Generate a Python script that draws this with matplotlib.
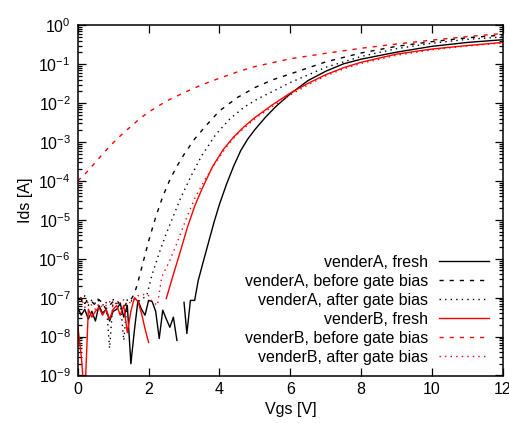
import numpy as np
import matplotlib
matplotlib.use("Agg")
import matplotlib.pyplot as plt
from matplotlib.ticker import LogLocator, FixedLocator, NullFormatter

plt.rcParams['font.family'] = ['Liberation Sans', 'DejaVu Sans']
plt.rcParams['mathtext.default'] = 'regular'
plt.rcParams['axes.unicode_minus'] = False
plt.rcParams['lines.scale_dashes'] = False

# ---------------- data (Vgs [V], log10 of Ids [A]) ----------------
vA_fresh_v = [0.0, 0.1, 0.2, 0.3, 0.4, 0.5, 0.6, 0.7, 0.8, 0.9, 1.0, 1.1, 1.2, 1.3, 1.4,
              1.5, 1.6, 1.7, 1.8, 1.9, 2.0, 2.1, 2.2, 2.3, 2.4, 2.5, 2.6, 2.7, 2.8, 2.9,
              3.0, 3.08, 3.18, 3.3, 3.4, 3.55, 3.7, 3.85, 4.0, 4.2, 4.4, 4.6, 4.8, 5.0,
              5.3, 5.6, 6.0, 6.5, 7.0, 7.5, 8.0, 9.0, 10.0, 11.0, 12.0]
vA_fresh_log = [-7.25, -7.45, -7.3, -7.55, -7.35, -7.6, -7.2, -7.4, -7.3, -7.6, -7.35, -7.3,
                -7.15, -7.5, -7.2, -8.7, -7.84, -7.07, -7.3, -7.45, -7.07, -7.1, -7.35,
                -8.05, -7.32, -7.55, -7.76, -7.5, -8.1, np.nan,
                -7.12, -7.92, -7.07, -7.07, -6.56, -6.05, -5.55, -5.05, -4.6, -4.08,
                -3.62, -3.22, -2.92, -2.68, -2.36, -2.08, -1.76, -1.42, -1.18, -0.99,
                -0.87, -0.69, -0.54, -0.44, -0.37]

vA_before_v = [0.0, 0.1, 0.2, 0.3, 0.4, 0.5, 0.6, 0.7, 0.8, 0.9, 1.0, 1.1, 1.2, 1.3, 1.4,
               1.5, 1.6, 1.7, 1.8, 1.9, 2.0, 2.2, 2.4, 2.6, 2.8, 3.0, 3.3, 3.6, 4.0, 4.5,
               5.0, 5.5, 6.0, 7.0, 8.0, 9.0, 10.0, 11.0, 12.0]
vA_before_log = [-7.05, -7.0, -7.15, -7.05, -7.1, -7.2, -7.05, -7.15, -7.3, -7.2, -7.1,
                 -7.05, -7.2, -7.25, -7.1, -7.05, -6.9, -6.6, -6.25, -5.9, -5.55, -4.93,
                 -4.4, -3.97, -3.62, -3.32, -2.92, -2.6, -2.2, -1.86, -1.6, -1.4, -1.25,
                 -0.94, -0.71, -0.54, -0.42, -0.32, -0.25]

vA_after_v = [0.0, 0.1, 0.2, 0.3, 0.4, 0.5, 0.6, 0.7, 0.8, 0.9, 1.0, 1.1, 1.2, 1.3, 1.4,
              1.5, 1.6, 1.7, 1.8, 1.95, 2.1, 2.3, 2.5, 2.7, 2.9, 3.2, 3.5, 3.9, 4.3,
              4.7, 5.1, 5.5, 6.0, 7.0, 8.0, 9.0, 10.0, 11.0, 12.0]
vA_after_log = [-7.0, -7.1, -6.95, -7.2, -7.05, -7.15, -7.0, -7.2, -7.1, -8.3, -7.05,
                -7.15, -7.1, -8.1, -7.05, -7.1, -7.0, -7.1, -7.05, -6.94, -6.4, -5.85,
                -5.35, -4.9, -4.45, -3.87, -3.35, -2.8, -2.4, -2.1, -1.88, -1.7, -1.47,
                -1.08, -0.8, -0.6, -0.46, -0.36, -0.3]

vB_fresh_v = [0.0, 0.1, 0.2, 0.3, 0.4, 0.5, 0.6, 0.7, 0.8, 0.9, 1.0, 1.1, 1.2, 1.3, 1.4,
              1.5, 1.6, 1.7, 1.8, 1.9, 2.0, 2.2,
              2.5, 2.7, 2.9, 3.1, 3.3, 3.5, 3.8, 4.1, 4.4, 4.7, 5.0, 5.5, 6.0, 6.5, 7.0,
              7.5, 8.0, 9.0, 10.0, 11.0, 12.0]
vB_fresh_log = [-7.7, -8.5, -9.6, -7.3, -7.5, -7.35, -7.25, -7.45, -7.3, -7.55, -7.3,
                -7.2, -7.45, -7.2, -7.9, -7.35, -7.0, -7.1, -7.4, -7.8, -8.15, np.nan,
                -7.02, -6.4, -5.8, -5.18, -4.65, -4.22, -3.64, -3.2, -2.87, -2.6, -2.37,
                -2.04, -1.74, -1.49, -1.27, -1.09, -0.95, -0.74, -0.61, -0.52, -0.44]

vB_before_v = [0.0, 0.25, 0.5, 0.75, 1.0, 1.25, 1.5, 1.75, 2.0, 2.5, 3.0, 3.5, 4.0, 4.5,
               5.0, 6.0, 7.0, 8.0, 9.0, 10.0, 11.0, 12.0]
vB_before_log = [-4.0, -3.78, -3.52, -3.26, -3.02, -2.8, -2.6, -2.4, -2.23, -1.95, -1.73,
                 -1.53, -1.36, -1.2, -1.06, -0.86, -0.72, -0.59, -0.48, -0.38, -0.29, -0.21]

vB_after_v = [0.0, 0.1, 0.2, 0.3, 0.4, 0.5, 0.6, 0.7, 0.8, 0.9, 1.0, 1.1, 1.2, 1.3, 1.4,
              1.5, 1.6, 1.7, 1.8, 1.9, 2.0, 2.1, 2.25, 2.37, 2.6, 2.8, 3.05, 3.3, 3.6,
              3.9, 4.2, 4.5, 5.0, 5.5, 6.0, 6.5, 7.0, 7.5, 8.0, 9.0, 10.0, 11.0, 12.0]
vB_after_log = [-7.15, -7.0, -7.25, -7.1, -7.2, -7.3, -7.15, -7.25, -7.2, -7.1, -7.25,
                -7.1, -7.15, -7.05, -7.2, -7.1, -7.05, -6.95, -6.95, -6.9, -6.95, -7.1,
                -7.2, -6.47, -6.04, -5.6, -5.0, -4.45, -3.95, -3.52, -3.12, -2.8, -2.4,
                -2.08, -1.79, -1.53, -1.3, -1.12, -0.98, -0.77, -0.63, -0.53, -0.45]

labels = ["venderA, fresh", "venderA, before gate bias", "venderA, after gate bias",
          "venderB, fresh", "venderB, before gate bias", "venderB, after gate bias"]
x_ticks = [0, 2, 4, 6, 8, 10, 12]

# ---------------- figure ----------------
fig = plt.figure(figsize=(5.10, 4.23), dpi=100)
ax = fig.add_axes([77.7 / 510, 1 - 375.5 / 423, (503 - 77.7) / 510, (375.5 - 25.3) / 423])

dash = (0, (3.0, 4.3))
dot = (0, (1.0, 3.0))
series = [
    (vA_fresh_v, vA_fresh_log, 'black', '-'),
    (vA_before_v, vA_before_log, 'black', dash),
    (vA_after_v, vA_after_log, 'black', dot),
    (vB_fresh_v, vB_fresh_log, '#ff0000', '-'),
    (vB_before_v, vB_before_log, '#ff0000', dash),
    (vB_after_v, vB_after_log, '#ff0000', dot),
]
for (v, lg, c, ls), lab in zip(series, labels):
    ax.plot(np.array(v), 10.0 ** np.array(lg, dtype=float), color=c, linestyle=ls,
            lw=1.0, label=lab)

ax.set_yscale('log')
ax.set_xlim(0, 12)
ax.set_ylim(1e-9, 1)
ax.xaxis.set_major_locator(FixedLocator(x_ticks))
ax.yaxis.set_major_locator(LogLocator(base=10, numticks=20))
ax.yaxis.set_minor_locator(LogLocator(base=10, subs=np.arange(2, 10), numticks=20))
ax.yaxis.set_minor_formatter(NullFormatter())

ax.tick_params(which='both', direction='in', top=True, right=True, labelsize=11.5,
               width=0.9, colors='black')
ax.tick_params(which='major', length=5.5, pad=5)
ax.tick_params(which='minor', length=3)
ax.tick_params(axis='x', which='minor', top=False, bottom=False)
for s in ax.spines.values():
    s.set_linewidth(1.1)

ax.set_xlabel("Vgs [V]", fontsize=11.5, labelpad=3)
ax.set_ylabel("Ids [A]", fontsize=11.5, labelpad=4)

leg = ax.legend(loc='lower right', bbox_to_anchor=(0.966, 0.03), markerfirst=False,
                frameon=False, fontsize=11.5, handlelength=3.1, handletextpad=0.7,
                labelspacing=0.25, borderpad=0, borderaxespad=0)

fig.savefig("out.png", dpi=100)
